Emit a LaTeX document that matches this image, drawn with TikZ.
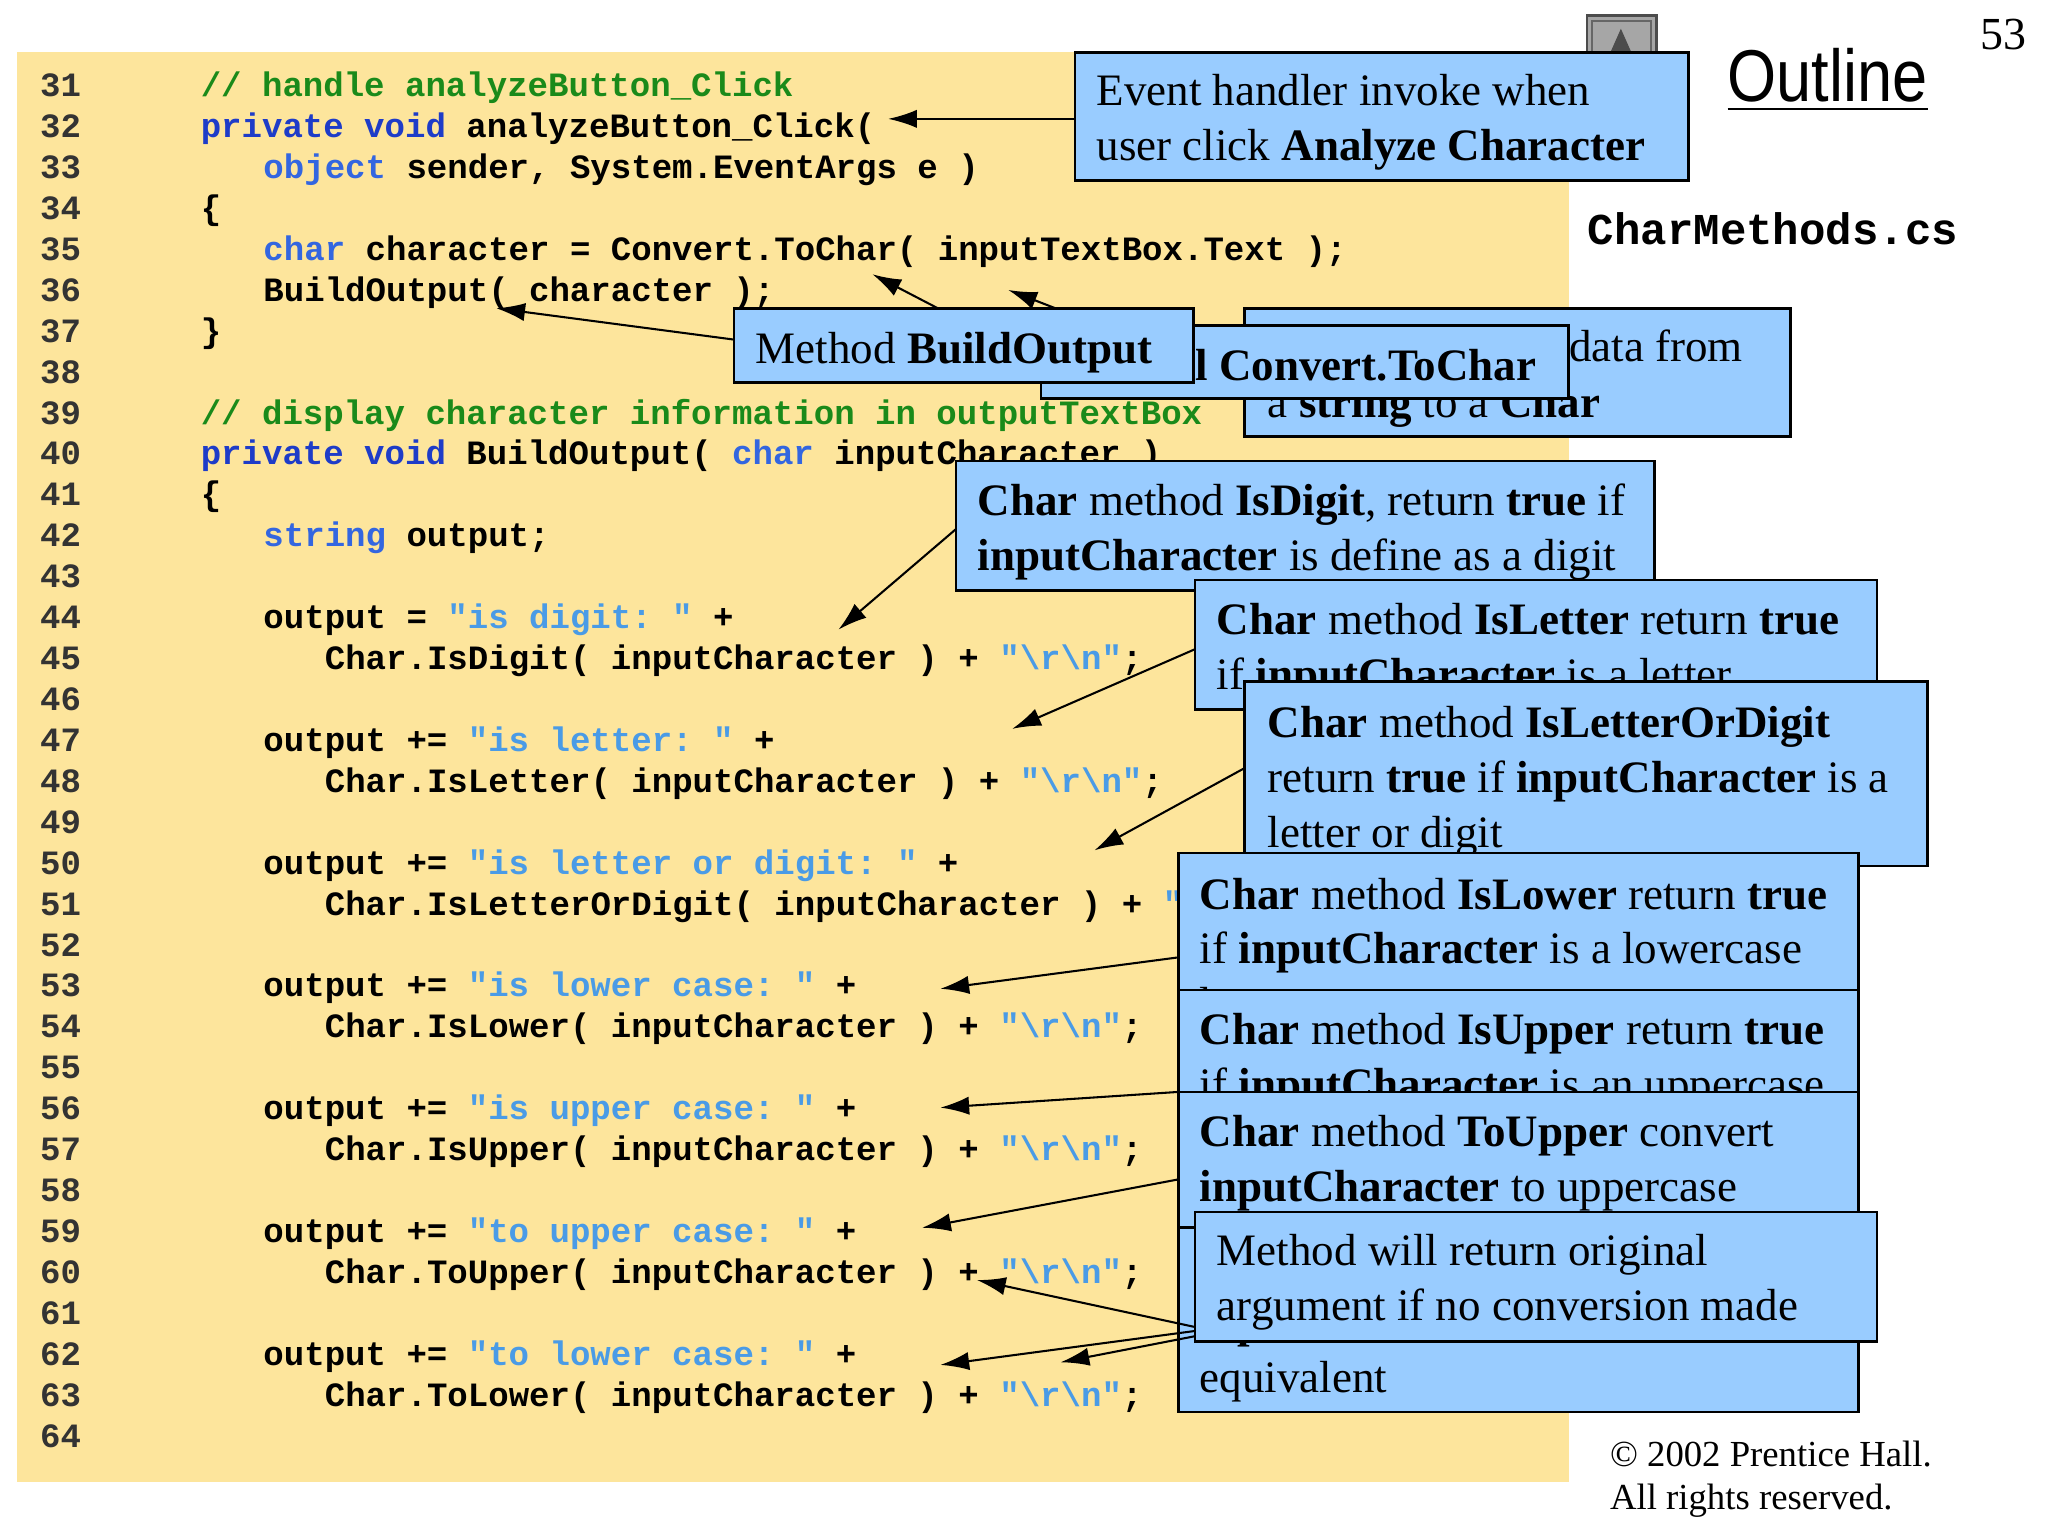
\documentclass[tikz,border=0pt]{standalone}
\usepackage{fontspec}
\setmainfont{Liberation Serif}
\setmonofont{Liberation Mono}
\newfontfamily\sansf{Liberation Sans}
\usetikzlibrary{arrows.meta}
\definecolor{codebg}{HTML}{FDE59C}
\definecolor{boxbl}{HTML}{99CCFF}
\definecolor{cmt}{HTML}{1A8A1A}
\definecolor{kw}{HTML}{1E3CC8}
\definecolor{kt}{HTML}{3366E0}
\definecolor{str}{HTML}{4A9BE6}
\newcommand\cmC[1]{\textcolor{cmt}{#1}}
\newcommand\kwC[1]{\textcolor{kw}{#1}}
\newcommand\ktC[1]{\textcolor{kt}{#1}}
\newcommand\stC[1]{\textcolor{str}{#1}}
\newcommand\rnC{\stC{"\textbackslash r\textbackslash n"}}
\begin{document}
\begin{tikzpicture}[x=0.1mm,y=-0.1mm,
  code/.style={anchor=base west,inner sep=0,font=\ttfamily\bfseries\fontsize{7.42}{9}\selectfont},
  num/.style={code,text=black!80},
  ct/.style={anchor=base west,inner sep=0,font=\fontsize{9.8}{11.9}\selectfont},
  box/.style={fill=boxbl,draw=black,line width=0.6pt},
  arr/.style={-{Latex[length=2.2mm,width=1.4mm]},line width=0.45pt}]
\useasboundingbox (0,0) rectangle (1568,1176);
\fill[white] (0,0) rectangle (1568,1176);
\fill[codebg] (13,40) rectangle (1201,1135);
% icon
\filldraw[fill=black!35,draw=black!70,line width=0.6pt] (1215,12) rectangle (1268,40);
\draw[black!60] (1219,16) rectangle (1264,40);
\fill[black!70] (1241,22) -- (1233,40) -- (1249,40) -- cycle;
\node[anchor=base east,inner sep=0,font=\fontsize{10}{12}\selectfont] (pg) at (1552,38) {53};
\node[anchor=base west,inner sep=0,font=\sansf\fontsize{16}{18}\selectfont] (ol) at (1322,78) {\scalebox{0.86}[1]{\underline{Outline}}};
\node[anchor=base west,inner sep=0,font=\ttfamily\bfseries\fontsize{9.6}{11}\selectfont] (fn) at (1215,187) {CharMethods.cs};
\node[anchor=base west,inner sep=0,font=\fontsize{8.0}{10}\selectfont] (cp1) at (1232,1123) {\textcopyright{} 2002 Prentice Hall.};
\node[anchor=base west,inner sep=0,font=\fontsize{8.0}{10}\selectfont] (cp2) at (1232,1156) {All rights reserved.};
% line numbers
\foreach \n [count=\i from 0] in {31,...,64}{
  \node[num] (n\n) at (30,{74+\i*31.33}) {\n};}
\newcommand\cl[3]{\node[code] (c#1) at (#2,{74+(#1-31)*31.33}) {#3};}
\cl{31}{153}{\cmC{// handle analyzeButton\_Click}}
\cl{32}{153}{\kwC{private void} analyzeButton\_Click(}
\cl{33}{201}{\ktC{object} sender, System.EventArgs e )}
\cl{34}{153}{\{}
\cl{35}{201}{\ktC{char} character = Convert.ToChar( inputTextBox.Text );}
\cl{36}{201}{BuildOutput( character );}
\cl{37}{153}{\}}
\cl{39}{153}{\cmC{// display character information in outputTextBox}}
\cl{40}{153}{\kwC{private void} BuildOutput( \ktC{char} inputCharacter )}
\cl{41}{153}{\{}
\cl{42}{201}{\ktC{string} output;}
\cl{44}{201}{output = \stC{"is digit: "} +}
\cl{45}{248}{Char.IsDigit( inputCharacter ) + \rnC;}
\cl{47}{201}{output += \stC{"is letter: "} +}
\cl{48}{248}{Char.IsLetter( inputCharacter ) + \rnC;}
\cl{50}{201}{output += \stC{"is letter or digit: "} +}
\cl{51}{248}{Char.IsLetterOrDigit( inputCharacter ) + \rnC;}
\cl{53}{201}{output += \stC{"is lower case: "} +}
\cl{54}{248}{Char.IsLower( inputCharacter ) + \rnC;}
\cl{56}{201}{output += \stC{"is upper case: "} +}
\cl{57}{248}{Char.IsUpper( inputCharacter ) + \rnC;}
\cl{59}{201}{output += \stC{"to upper case: "} +}
\cl{60}{248}{Char.ToUpper( inputCharacter ) + \rnC;}
\cl{62}{201}{output += \stC{"to lower case: "} +}
\cl{63}{248}{Char.ToLower( inputCharacter ) + \rnC;}
% boxes
\newcommand\bx[5]{\filldraw[box] (#1,#2) rectangle (#3,#4);
  \begin{scope}\clip (#1,#2) rectangle (#3,#4); #5 \end{scope}
  \draw[line width=0.6pt] (#1,#2) rectangle (#3,#4);}
\bx{823}{40}{1293}{138}{
  \node[ct] (t1a) at (839,81) {Event handler invoke when};
  \node[ct] (t1b) at (839,123) {user click \textbf{Analyze Character}};}
\bx{953}{236}{1371}{334}{
  \node[ct,anchor=base east] (t2a) at (1335,277) {\textbf{Convert} method converts data from};
  \node[ct] (t2b) at (970,320) {a \textbf{string} to a \textbf{Char}};}
\bx{797}{249}{1201}{305}{
  \node[ct,anchor=base east] (t3a) at (1177,291) {\textbf{Call Convert.ToChar}};}
\bx{562}{236}{914}{293}{
  \node[ct] (t4a) at (578,278) {Method \textbf{BuildOutput}};}
\bx{732}{353}{1267}{452}{
  \node[ct] (t5a) at (748,395) {\textbf{Char} method \textbf{IsDigit}, return \textbf{true} if};
  \node[ct] (t5b) at (748,437) {\textbf{inputCharacter} is define as a digit};}
\bx{915}{444}{1437}{543}{
  \node[ct] (t6a) at (931,486) {\textbf{Char} method \textbf{IsLetter} return \textbf{true}};
  \node[ct] (t6b) at (931,528) {if \textbf{inputCharacter} is a letter};}
\bx{953}{522}{1476}{663}{
  \node[ct] (t7a) at (970,565) {\textbf{Char} method \textbf{IsLetterOrDigit}};
  \node[ct] (t7b) at (970,607) {return \textbf{true} if \textbf{inputCharacter} is a};
  \node[ct] (t7c) at (970,649) {letter or digit};}
\bx{902}{653}{1423}{780}{
  \node[ct] (t8a) at (918,696) {\textbf{Char} method \textbf{IsLower} return \textbf{true}};
  \node[ct] (t8b) at (918,738) {if \textbf{inputCharacter} is a lowercase};
  \node[ct] (t8c) at (918,780) {letter};}
\bx{902}{758}{1423}{850}{
  \node[ct] (t9a) at (918,800) {\textbf{Char} method \textbf{IsUpper} return \textbf{true}};
  \node[ct] (t9b) at (918,842) {if \textbf{inputCharacter} is an uppercase};}
\bx{902}{836}{1423}{940}{
  \node[ct] (t10a) at (918,878) {\textbf{Char} method \textbf{ToUpper} convert};
  \node[ct] (t10b) at (918,920) {\textbf{inputCharacter} to uppercase};}
\bx{902}{940}{1423}{1081}{
  \node[ct] (t11a) at (918,982) {\textbf{Char} method \textbf{ToLower} convert};
  \node[ct] (t11b) at (918,1024) {\textbf{inputCharacter} to lowercase};
  \node[ct] (t11c) at (918,1066) {equivalent};}
\bx{915}{928}{1437}{1027}{
  \node[ct] (t12a) at (931,969) {Method will return original};
  \node[ct] (t12b) at (931,1011) {argument if no conversion made};}
% connectors
\coordinate (s1) at (823,91);  \coordinate (e1) at (680,91);
\coordinate (s2) at (562,260); \coordinate (e2) at (380,236);
\coordinate (s3) at (718,236); \coordinate (e3) at (668,210);
\coordinate (s4) at (808,236); \coordinate (e4) at (772,222);
\coordinate (s5) at (732,405); \coordinate (e5) at (642,482);
\coordinate (s6) at (915,497); \coordinate (e6) at (775,558);
\coordinate (s7) at (953,588); \coordinate (e7) at (838,651);
\coordinate (s8) at (902,733); \coordinate (e8) at (720,757);
\coordinate (s9) at (902,836); \coordinate (e9) at (720,848);
\coordinate (s10) at (902,903); \coordinate (e10) at (706,940);
\coordinate (s11) at (915,1016); \coordinate (e11) at (748,980);
\coordinate (s12) at (915,1019); \coordinate (e12) at (720,1045);
\coordinate (s13) at (915,1023); \coordinate (e13) at (812,1043);
\foreach \k in {1,...,13}{\draw[arr] (s\k) -- (e\k);}
\end{tikzpicture}
\end{document}
